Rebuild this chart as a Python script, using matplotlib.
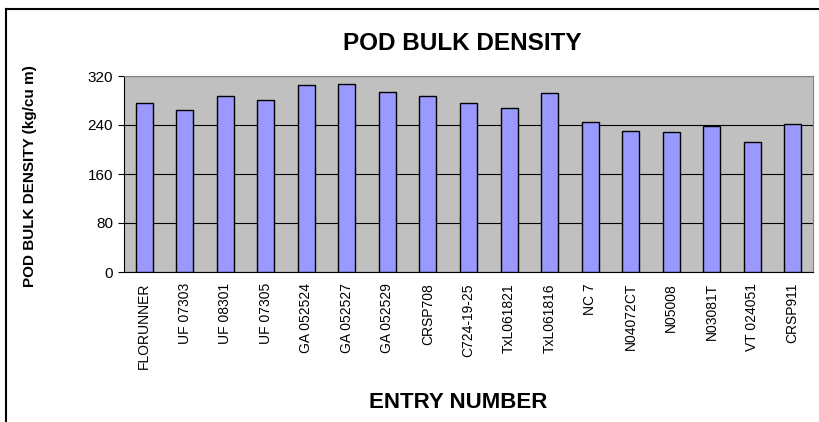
import matplotlib.pyplot as plt
from matplotlib.lines import Line2D

entries = ['FLORUNNER', 'UF 07303', 'UF 08301', 'UF 07305', 'GA 052524',
           'GA 052527', 'GA 052529', 'CRSP708', 'C724-19-25', 'TxL061821',
           'TxL061816', 'NC 7', 'N04072CT', 'N05008', 'N03081T', 'VT 024051',
           'CRSP911']
density = [276, 265, 288, 281, 305, 307, 294, 287, 276, 267, 293, 245,
           230, 228, 238, 213, 241]
yticks = [0, 80, 160, 240, 320]

plt.rcParams['font.family'] = ['Liberation Sans', 'DejaVu Sans']

fig = plt.figure(figsize=(8.2, 4.22), dpi=100)
ax = fig.add_axes([124 / 820, 1 - 272 / 422, 689 / 820, 196 / 422])
ax.set_facecolor('#C0C0C0')

x = range(len(entries))
ax.bar(x, density, width=0.42, color='#9999FF', edgecolor='black',
       linewidth=1.0, zorder=3)
ax.set_xlim(-0.5, len(entries) - 0.5)
ax.set_ylim(0, 320)
ax.set_yticks(yticks)
ax.yaxis.grid(True, color='black', linewidth=0.8, zorder=0)
ax.set_axisbelow(True)
ax.set_xticks(list(x))
ax.set_xticklabels(entries, rotation=90, fontsize=10)
ax.tick_params(axis='y', labelsize=11, length=4, width=0.8, pad=4)
ax.tick_params(axis='x', length=0, pad=8)
for s in ['top', 'right']:
    ax.spines[s].set_color('#808080')
for s in ['left', 'bottom']:
    ax.spines[s].set_linewidth(0.8)

fig.text(462 / 820, 1 - 44 / 422, 'POD BULK DENSITY', ha='center', va='center',
         fontsize=17.5, fontweight='bold')
fig.text(458 / 820, 1 - 403 / 422, 'ENTRY NUMBER', ha='center', va='center',
         fontsize=16, fontweight='bold')
fig.text(30 / 820, 1 - 176 / 422, 'POD BULK DENSITY (kg/cu m)', ha='center',
         va='center', rotation=90, fontsize=11, fontweight='bold')

# outer chart frame (only top and left edges visible)
fig.add_artist(Line2D([6 / 820, 1], [1 - 9 / 422, 1 - 9 / 422],
                      transform=fig.transFigure, color='black', linewidth=1.5))
fig.add_artist(Line2D([6 / 820, 6 / 820], [0, 1 - 9 / 422],
                      transform=fig.transFigure, color='black', linewidth=1.5))

fig.savefig('out.png', dpi=100)
